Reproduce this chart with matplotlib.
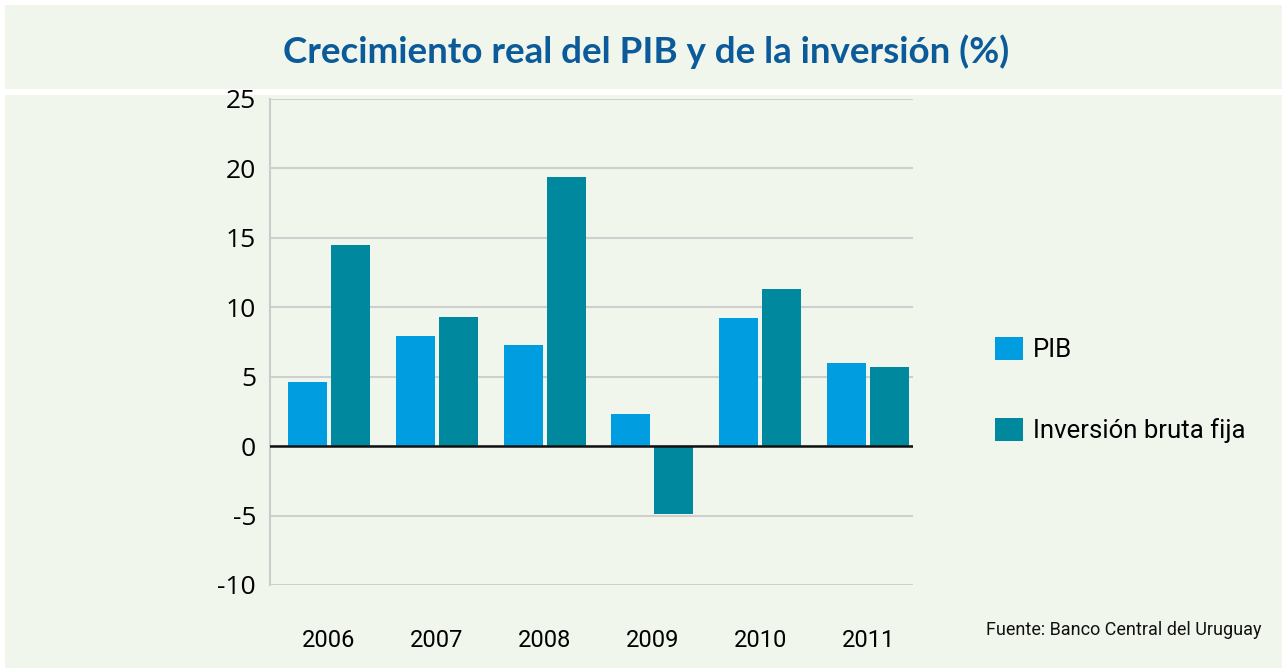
import matplotlib
matplotlib.use("Agg")
import matplotlib.pyplot as plt
import numpy as np
from matplotlib.patches import Rectangle

years = ["2006", "2007", "2008", "2009", "2010", "2011"]
pib = [4.6, 7.9, 7.3, 2.3, 9.2, 6.0]
inversion = [14.5, 9.3, 19.4, -4.9, 11.3, 5.7]
y_ticks = [-10, -5, 0, 5, 10, 15, 20, 25]

BG = "#f1f6ec"
C_PIB = "#009ee0"
C_INV = "#00889f"
NARROW = ["Liberation Sans Narrow", "Roboto", "DejaVu Sans"]

W, H = 1282, 668
fig = plt.figure(figsize=(W / 100, H / 100), dpi=100)
fig.patch.set_facecolor("white")

# title band and panel background
fig.patches.append(Rectangle((5 / W, 1 - 89 / H), 1, 84 / H, transform=fig.transFigure,
                             facecolor=BG, edgecolor="none", zorder=-10))
fig.patches.append(Rectangle((5 / W, 0), 1, 1 - 95 / H, transform=fig.transFigure,
                             facecolor=BG, edgecolor="none", zorder=-10))

fig.text(646 / W, 1 - 52 / H, "Crecimiento real del PIB y de la inversión (%)",
         ha="center", va="center", fontsize=26.5, fontweight="bold",
         color="#0b5a9a", family=["Lato", "DejaVu Sans"])

ax = fig.add_axes([270 / W, 1 - 585 / H, (913 - 270) / W, (585 - 99) / H])
ax.set_facecolor("none")

x = np.arange(len(years))
w = 0.362
b1 = ax.bar(x - 0.2, pib, width=w, color=C_PIB, label="PIB", zorder=3)
b2 = ax.bar(x + 0.2, inversion, width=w, color=C_INV, label="Inversión bruta fija", zorder=3)

ax.set_xlim(-0.547, 5.417)
ax.set_ylim(-10, 25)
ax.set_yticks(y_ticks)
ax.set_yticklabels([str(v) for v in y_ticks], fontsize=19, family=["Open Sans", "DejaVu Sans"])
ax.set_xticks(x)
ax.set_xticklabels(years, fontsize=17, family=NARROW)
ax.tick_params(axis="both", length=0)
ax.tick_params(axis="x", pad=32)
ax.tick_params(axis="y", pad=10)

ax.grid(axis="y", color="#cfcfcf", linewidth=1.5, zorder=0)
ax.axhline(0, color="#111111", linewidth=1.8, zorder=4)
for s in ["top", "right", "bottom"]:
    ax.spines[s].set_visible(False)
ax.spines["left"].set_color("#cccccc")
ax.spines["left"].set_linewidth(1.5)

fig.legend(handles=[b1, b2], loc="upper left",
           bbox_to_anchor=(995 / W, 1 - 337 / H), bbox_transform=fig.transFigure,
           frameon=False, prop={"family": NARROW, "size": 18.5},
           handlelength=1.1, handleheight=1.0, handletextpad=0.38,
           labelspacing=2.15, borderpad=0, borderaxespad=0)

fig.text(1262 / W, 1 - 630 / H, "Fuente: Banco Central del Uruguay",
         ha="right", va="center", fontsize=13, family=NARROW, color="#111111")

fig.savefig("out.png", dpi=100, facecolor=fig.get_facecolor())
